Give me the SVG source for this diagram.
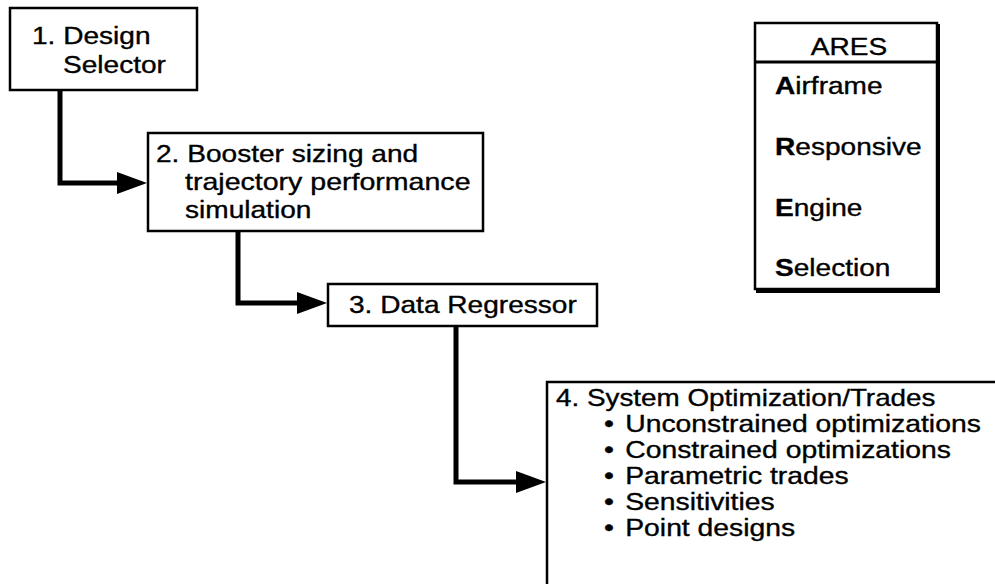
<svg xmlns="http://www.w3.org/2000/svg" width="995" height="584" viewBox="0 0 995 584">
  <style>
    .box { fill: #fff; stroke: #000; stroke-width: 2.5; }
    .edge { fill: none; stroke: #000; stroke-width: 5; stroke-linejoin: miter; }
    .t { font-family: "Liberation Sans", Arial, Helvetica, sans-serif; font-size: 24px; fill: #000; stroke: #000; stroke-width: 0.35; }
    .b { font-weight: bold; }
  </style>
  <defs>
    <marker id="arrow" viewBox="0 0 31 22" markerUnits="userSpaceOnUse" markerWidth="31" markerHeight="22" refX="1" refY="11" orient="auto">
      <polygon points="0,0 30,11 0,22" fill="#000"/>
    </marker>
  </defs>
  <rect width="995" height="584" fill="#fff"/>

  <!-- flow connectors -->
  <g id="connectors">
    <path class="edge" d="M60,90 V183 H118" marker-end="url(#arrow)"/>
    <path class="edge" d="M238,231 V303 H298" marker-end="url(#arrow)"/>
    <path class="edge" d="M456,326 V482 H517" marker-end="url(#arrow)"/>
  </g>

  <g id="design-selector">
    <rect class="box" x="10" y="8" width="187" height="82"/>
    <text class="t" transform="translate(32 44) scale(1.17 1)">1. Design</text>
    <text class="t" transform="translate(63 73) scale(1.17 1)">Selector</text>
  </g>

  <g id="booster-sizing">
    <rect class="box" x="148" y="133" width="335" height="98"/>
    <text class="t" transform="translate(156 162) scale(1.17 1)">2. Booster sizing and</text>
    <text class="t" transform="translate(185 190) scale(1.19 1)">trajectory performance</text>
    <text class="t" transform="translate(185 218) scale(1.17 1)">simulation</text>
  </g>

  <g id="data-regressor">
    <rect class="box" x="328" y="284" width="269" height="42"/>
    <text class="t" transform="translate(349 313) scale(1.17 1)">3. Data Regressor</text>
  </g>

  <g id="system-optimization">
    <path class="box" d="M547,600 V382 H1005 V600 Z"/>
    <text class="t" transform="translate(556 406) scale(1.16 1)">4. System Optimization/Trades</text>
    <text class="t" transform="translate(604 432) scale(1.18 1)"><tspan>•</tspan><tspan x="18">Unconstrained optimizations</tspan></text>
    <text class="t" transform="translate(604 458) scale(1.18 1)"><tspan>•</tspan><tspan x="18">Constrained optimizations</tspan></text>
    <text class="t" transform="translate(604 484) scale(1.18 1)"><tspan>•</tspan><tspan x="18">Parametric trades</tspan></text>
    <text class="t" transform="translate(604 510) scale(1.18 1)"><tspan>•</tspan><tspan x="18">Sensitivities</tspan></text>
    <text class="t" transform="translate(604 536) scale(1.18 1)"><tspan>•</tspan><tspan x="18">Point designs</tspan></text>
  </g>

  <!-- acronym legend -->
  <g id="ares-legend">
    <rect class="box" x="755" y="23" width="182" height="266"/>
    <path fill="none" stroke="#000" stroke-width="4" d="M938,24 V291 H756"/>
    <line x1="755" y1="62" x2="937" y2="62" stroke="#000" stroke-width="3"/>
    <text class="t" transform="translate(849 55) scale(1.17 1)" text-anchor="middle">ARES</text>
    <text class="t" transform="translate(775 94) scale(1.17 1)"><tspan class="b">A</tspan>irframe</text>
    <text class="t" transform="translate(775 155) scale(1.17 1)"><tspan class="b">R</tspan>esponsive</text>
    <text class="t" transform="translate(775 216) scale(1.17 1)"><tspan class="b">E</tspan>ngine</text>
    <text class="t" transform="translate(775 276) scale(1.17 1)"><tspan class="b">S</tspan>election</text>
  </g>
</svg>
